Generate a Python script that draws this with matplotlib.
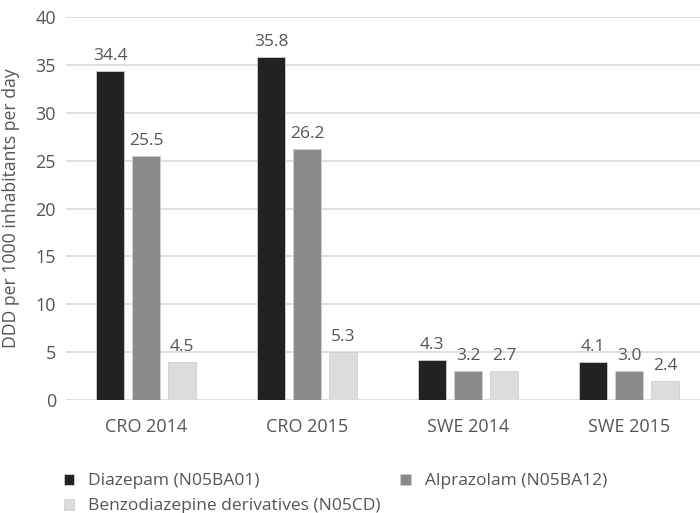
import numpy as np
import matplotlib
matplotlib.use("Agg")
import matplotlib.pyplot as plt

plt.rcParams['font.family'] = ['Open Sans', 'DejaVu Sans']

# data
categories = ["CRO 2014", "CRO 2015", "SWE 2014", "SWE 2015"]
series_names = ["Diazepam (N05BA01)", "Alprazolam (N05BA12)",
                "Benzodiazepine derivatives (N05CD)"]
diazepam = [34.4, 35.8, 4.2, 4.0]
alprazolam = [25.5, 26.2, 3.0, 3.0]
benzo = [4.0, 5.0, 3.0, 2.0]
# printed value labels
diazepam_lbl = ["34.4", "35.8", "4.3", "4.1"]
alprazolam_lbl = ["25.5", "26.2", "3.2", "3.0"]
benzo_lbl = ["4.5", "5.3", "2.7", "2.4"]

colors = ["#222222", "#8a8a8c", "#dcdcde"]
txt = "#555555"

fig = plt.figure(figsize=(7, 5.13), dpi=100)
ax = fig.add_axes([0.094, 0.22, 0.906, 0.747])

x = np.arange(len(categories))
w = 0.175
step = 0.224
handles = []
for i, (vals, lbls) in enumerate(zip([diazepam, alprazolam, benzo],
                                     [diazepam_lbl, alprazolam_lbl, benzo_lbl])):
    bars = ax.bar(x + (i - 1) * step, vals, w, color=colors[i],
                  edgecolor="#cfcfcf", linewidth=0.6, zorder=3,
                  label=series_names[i])
    handles.append(bars)
    for b, l in zip(bars, lbls):
        ax.annotate(l, (b.get_x() + b.get_width() / 2, b.get_height()),
                    xytext=(0, 5), textcoords="offset points",
                    ha="center", va="bottom", fontsize=12.5, color=txt)

ax.set_ylim(0, 40)
ax.set_yticks(range(0, 41, 5))
ax.set_xlim(-0.5, 3.44)
ax.set_xticks(x)
ax.set_xticklabels(categories)
ax.grid(axis="y", color="#d9d9d9", linewidth=1.2, zorder=0)
for s in ax.spines.values():
    s.set_visible(False)
ax.tick_params(length=0, labelsize=13, colors=txt)
ax.tick_params(axis="x", pad=13)
ax.tick_params(axis="y", pad=7)
ax.set_ylabel("DDD per 1000 inhabitants per day", fontsize=12.7, color=txt)
ax.yaxis.set_label_coords(-0.072, 0.5)

fig.legend([handles[0], handles[2], handles[1]],
           [series_names[0], series_names[2], series_names[1]],
           ncol=2, loc="upper left", bbox_to_anchor=(0.0786, 0.094),
           frameon=False, fontsize=12.5, labelcolor=txt,
           handlelength=0.6, handleheight=0.6, handletextpad=0.8,
           columnspacing=1.15, labelspacing=0.5, borderpad=0)

fig.savefig("out.png", dpi=100)
